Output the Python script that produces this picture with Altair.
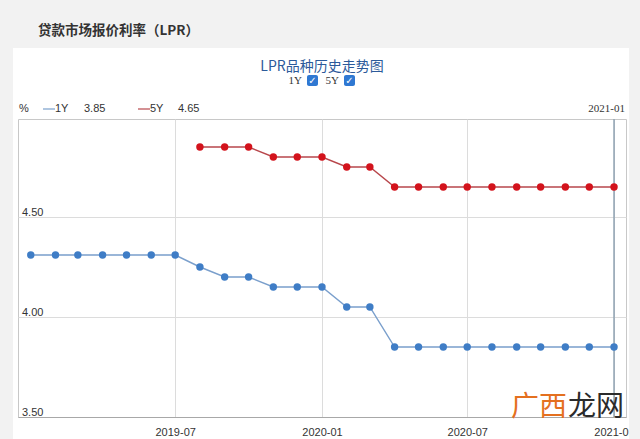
import altair as alt
import pandas as pd

# ---- data -------------------------------------------------------------
months_1y = ["2019-01", "2019-02", "2019-03", "2019-04", "2019-05", "2019-06",
             "2019-07", "2019-08", "2019-09", "2019-10", "2019-11", "2019-12",
             "2020-01", "2020-02", "2020-03", "2020-04", "2020-05", "2020-06",
             "2020-07", "2020-08", "2020-09", "2020-10", "2020-11", "2020-12",
             "2021-01"]
rate_1y = [4.31, 4.31, 4.31, 4.31, 4.31, 4.31, 4.31, 4.25, 4.20, 4.20, 4.15,
           4.15, 4.15, 4.05, 4.05, 3.85, 3.85, 3.85, 3.85, 3.85, 3.85, 3.85,
           3.85, 3.85, 3.85]
months_5y = ["2019-08", "2019-09", "2019-10", "2019-11", "2019-12", "2020-01",
             "2020-02", "2020-03", "2020-04", "2020-05", "2020-06", "2020-07",
             "2020-08", "2020-09", "2020-10", "2020-11", "2020-12", "2021-01"]
rate_5y = [4.85, 4.85, 4.85, 4.80, 4.80, 4.80, 4.75, 4.75, 4.65, 4.65, 4.65,
           4.65, 4.65, 4.65, 4.65, 4.65, 4.65, 4.65]
y_ticks = [3.50, 4.00, 4.50]
x_ticks = ["2019-07", "2020-01", "2020-07", "2021-01"]
cursor_month = ["2021-01"]

page_title = "贷款市场报价利率（LPR）"
chart_title = "LPR品种历史走势图"
watermark_a = "广西"
watermark_b = "龙网"

df = pd.DataFrame({
    "date": [m + "-01" for m in months_1y] + [m + "-01" for m in months_5y],
    "rate": rate_1y + rate_5y,
    "tenor": ["1Y"] * len(rate_1y) + ["5Y"] * len(rate_5y),
})
ylab = pd.DataFrame({"rate": y_ticks})
cursor = pd.DataFrame({"date": [m + "-01" for m in cursor_month]})

# ---- styling ----------------------------------------------------------
BG = "#f2f2f2"
C1_LINE, C1_PT = "#7a9fcc", "#3f7dc6"
C5_LINE, C5_PT = "#b8474c", "#d3131c"
GRID = "#dcdcdc"
W, H = 608, 298


def ms(s):
    return int(pd.Timestamp(s, tz="UTC").value // 10**6)


xscale = alt.Scale(type="utc", nice=False,
                   domain=[ms("2018-12-16"), ms("2021-01-16")])
yscale = alt.Scale(domain=[3.5, 4.99], nice=False, zero=False)

X = alt.X("date:T", scale=xscale,
          axis=alt.Axis(values=[ms(v + "-01") for v in x_ticks], format="%Y-%m",
                        grid=True, gridColor=GRID, ticks=False,
                        domainColor="#a8a8a8", labelFont="Liberation Sans",
                        labelFontSize=11, labelColor="#333333", labelPadding=9,
                        labelAngle=0, labelFlush=False, labelOverlap=False,
                        title=None))
Y = alt.Y("rate:Q", scale=yscale,
          axis=alt.Axis(values=[4.0, 4.5], labels=False, ticks=False,
                        domain=False, grid=True, gridColor=GRID, title=None))

base = alt.Chart(df)


def series_line(tenor, color):
    return base.transform_filter(alt.datum.tenor == tenor).mark_line(
        color=color, strokeWidth=1.4).encode(x=X, y=Y)


def series_pts(tenor, color):
    return base.transform_filter(alt.datum.tenor == tenor).mark_point(
        filled=True, color=color, size=55, opacity=1, shape="circle").encode(x=X, y=Y)


cursor_rule = alt.Chart(cursor).mark_rule(color="#8fa2b2", strokeWidth=1.5).encode(x=X)

ylabels = alt.Chart(ylab).mark_text(
    align="left", baseline="alphabetic", dx=0, dy=-1, fontSize=11,
    font="Liberation Sans", color="#333333").encode(
    x=alt.value(4), y=Y,
    text=alt.Text("rate:Q", format=".2f"))

ONE = alt.Data(values=[{}])


def txt(s, x, y, size=11, color="#333333", font="Liberation Sans",
        align="left", weight="normal", baseline="middle"):
    return alt.Chart(ONE).mark_text(
        text=s, align=align, baseline=baseline, fontSize=size, font=font,
        color=color, fontWeight=weight).encode(x=alt.value(x), y=alt.value(y))


def box(x1, x2, y1, y2, color, r=0):
    return alt.Chart(ONE).mark_rect(color=color, cornerRadius=r).encode(
        x=alt.value(x1), x2=alt.value(x2), y=alt.value(y1), y2=alt.value(y2))


def hline(x1, x2, y, color):
    return alt.Chart(ONE).mark_rule(color=color, strokeWidth=1.2).encode(
        x=alt.value(x1), x2=alt.value(x2), y=alt.value(y))


# gray page surround (x/y relative to plot origin at 18,119)
strips = [
    box(-18, -5, -119, 320, BG),     # left
    box(-18, 622, -119, -71, BG),    # top
    box(611, 622, -119, 320, BG),    # right
]

decor = [
    txt(page_title, 20, -88, size=13.5, color="#333333",
        font="Noto Sans CJK SC", weight="bold"),
    txt(chart_title, 304, -52, size=14, color="#2c5a9a",
        font="Noto Sans CJK SC", align="center"),
    txt("1Y", 284, -38, size=11, font="Liberation Serif", align="right"),
    box(289, 300, -44, -33, "#2f78d2", r=2),
    txt("✓", 294.5, -38, size=10, color="white", font="DejaVu Sans",
        align="center", weight="bold"),
    txt("5Y", 321, -38, size=11, font="Liberation Serif", align="right"),
    box(326, 337, -44, -33, "#2f78d2", r=2),
    txt("✓", 331.5, -38, size=10, color="white", font="DejaVu Sans",
        align="center", weight="bold"),
    txt("%", 1, -10),
    hline(25, 37, -10, C1_LINE),
    txt("1Y", 37, -10),
    txt(f"{rate_1y[-1]:.2f}", 66, -10),
    hline(120, 132, -10, C5_LINE),
    txt("5Y", 132, -10),
    txt(f"{rate_5y[-1]:.2f}", 160, -10),
    txt(cursor_month[0], 607, -10, font="Liberation Serif", align="right"),
    txt(watermark_a, 493, 289, size=28, color="#e4701f",
        font="Noto Sans CJK SC"),
    txt(watermark_b, 550, 289, size=28, color="#2b2b2b",
        font="Noto Sans CJK SC"),
]

chart = alt.layer(
    series_line("1Y", C1_LINE),
    series_line("5Y", C5_LINE),
    cursor_rule,
    series_pts("1Y", C1_PT),
    series_pts("5Y", C5_PT),
    ylabels,
    *strips,
    *decor,
).properties(
    width=W, height=H,
    padding={"left": 18, "top": 119, "right": 14, "bottom": 22},
    autosize=alt.AutoSizeParams(type="none"),
    background="white",
).configure_view(stroke="#c8c8c8", strokeWidth=1)

chart.save("out.html", embed_options={"renderer": "svg", "actions": False})
